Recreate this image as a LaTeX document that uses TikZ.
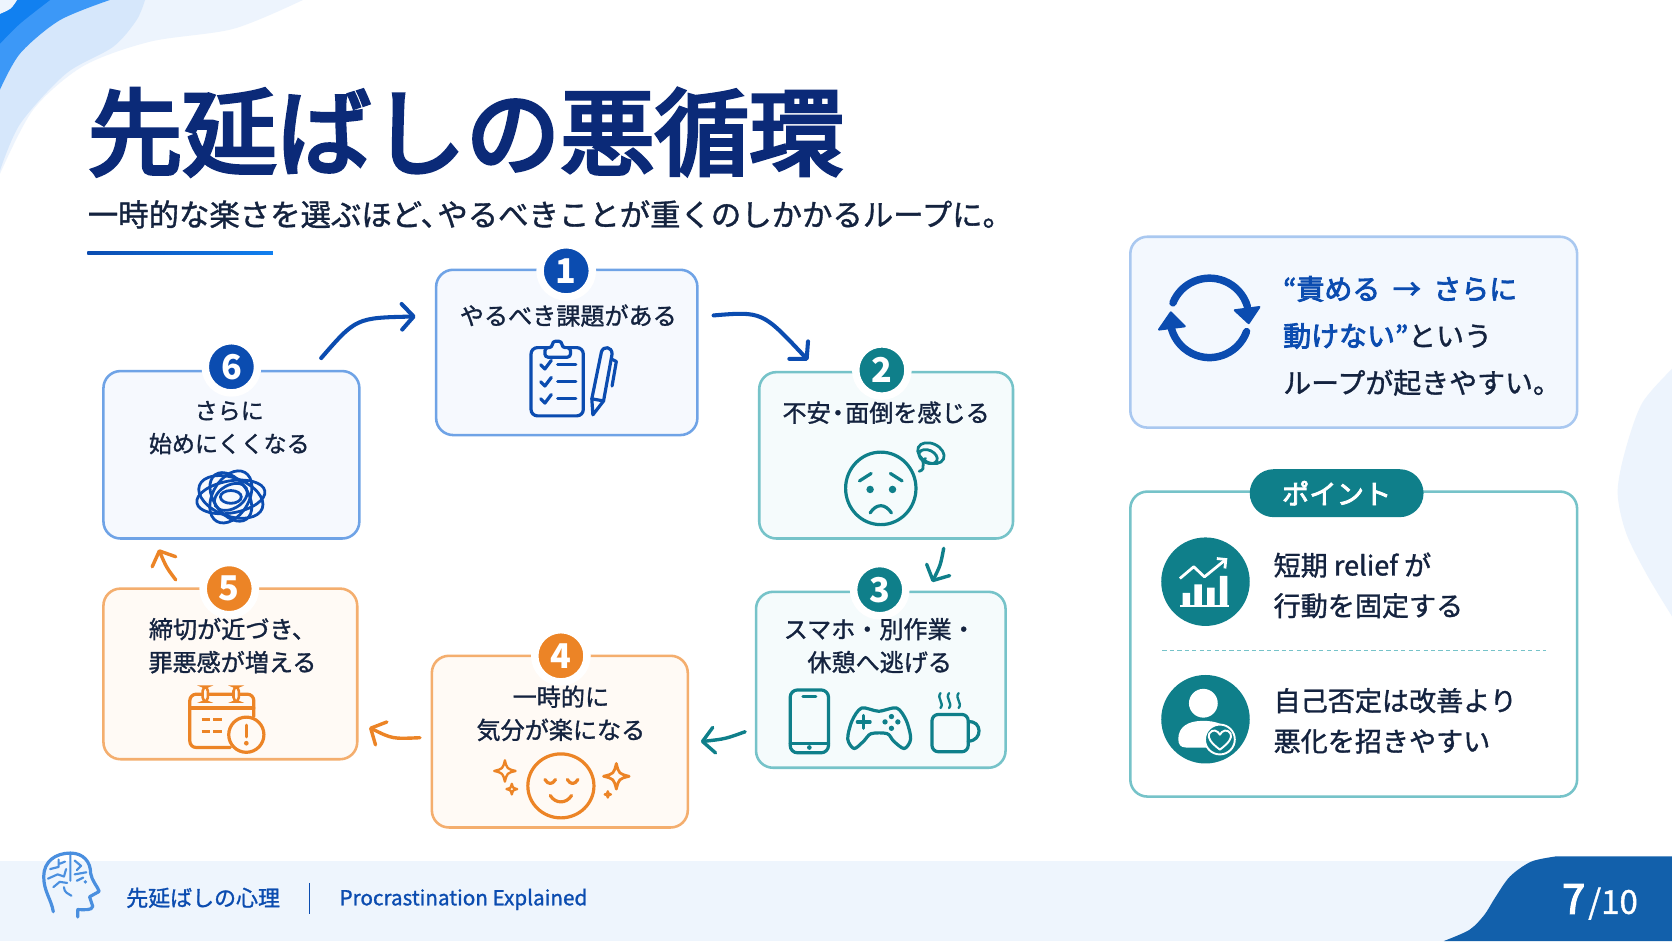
\documentclass[tikz,border=0pt]{standalone}
\usepackage{fontspec}
\setmainfont{Noto Sans CJK JP}[FakeBold=1.2,BoldFeatures={FakeBold=0}]
\newfontfamily\midfont{Noto Sans CJK JP}[FakeBold=3]
\newfontfamily\headfont{Noto Sans CJK JP}[FakeBold=4]
\usetikzlibrary{arrows.meta,calc}

\definecolor{navy}{HTML}{0B2A78}
\definecolor{ink}{HTML}{14233F}
\definecolor{mainblue}{HTML}{0B4CB0}
\definecolor{edgeblue}{HTML}{6FA3E6}
\definecolor{fillblue}{HTML}{F6F9FE}
\definecolor{mainteal}{HTML}{0F7F8A}
\definecolor{edgeteal}{HTML}{76C3C9}
\definecolor{fillteal}{HTML}{F5FBFC}
\definecolor{mainorange}{HTML}{EC8426}
\definecolor{edgeorange}{HTML}{F4AE6E}
\definecolor{fillorange}{HTML}{FFFAF5}
\definecolor{footband}{HTML}{EEF5FD}
\definecolor{footblue}{HTML}{1260AB}
\definecolor{paleblob}{HTML}{EDF4FD}
\definecolor{midblob}{HTML}{D6E7FB}
\definecolor{brightblob}{HTML}{3C98F7}
\definecolor{deepblob}{HTML}{1180F0}
\definecolor{brainblue}{HTML}{4A8FDF}

\tikzset{
  stepbox/.style={rectangle, rounded corners=8pt, line width=1.2pt, inner sep=0pt},
  bluebox/.style={stepbox, draw=edgeblue, fill=fillblue},
  tealbox/.style={stepbox, draw=edgeteal, fill=fillteal},
  orangebox/.style={stepbox, draw=edgeorange, fill=fillorange},
  badge/.style={circle, minimum size=24.5pt, inner sep=0pt, draw=white, line width=3.5pt,
                text=white, font=\fontsize{16}{16}\selectfont\bfseries},
  steptext/.style={inner sep=0pt, align=center, text=ink, font=\fontsize{11.3}{15.5}\selectfont},
  sidetext/.style={inner sep=0pt, align=left, anchor=west, text=ink, font=\fontsize{13.1}{22}\selectfont},
  pointtext/.style={inner sep=0pt, align=left, anchor=west, text=ink, font=\fontsize{12.7}{19}\selectfont},
  flow/.style={-{Straight Barb[round,length=5.5pt,width=12pt]}, line width=1.9pt, line cap=round},
  icon/.style={line width=1.5pt, line cap=round, line join=round},
}

\begin{document}
\begin{tikzpicture}[x=0.5pt,y=-0.5pt]
    \useasboundingbox (0,0) rectangle (1568,882.5);
    \clip (0,0) rectangle (1568,882.5);
    \fill[white] (0,0) rectangle (1568,882.5);

    % Background Shapes
    \fill[paleblob] (0,0) -- plot[smooth] coordinates {(284,0) (219,27) (141,39) (78,62) (31,103) (0,163)} -- cycle;
    \fill[midblob] (0,0) -- plot[smooth] coordinates {(136,0) (128,19) (106,44) (62,69) (19,116) (0,160)} -- cycle;
    \fill[brightblob] (0,0) -- plot[smooth] coordinates {(103,0) (56,19) (19,50) (0,84)} -- cycle;
    \fill[deepblob] (0,0) -- plot[smooth] coordinates {(47,0) (19,22) (0,41)} -- cycle;
    \fill[paleblob] (0,0) -- plot[smooth] coordinates {(16,0) (10,8) (0,13)} -- cycle;
    \fill[paleblob] (1568,882) -- plot[smooth] coordinates {(1568,346) (1540,378) (1524,423) (1517,462) (1525,500) (1545,540) (1568,578)} -- cycle;

    % Footer
    \fill[footband] (0,807) rectangle (1568,882.5);
    \fill[footblue] (1568,803) -- (1460,803) -- plot[smooth] coordinates {(1460,803) (1436,808) (1416,822) (1402,842) (1392,858) (1378,872) (1354,882.5)} -- (1568,882.5) -- cycle;
    \node[inner sep=0pt, anchor=west, text=mainblue, font=\fontsize{10.3}{12}\selectfont] (foottitle) at (118,842) {先延ばしの心理};
    \draw[mainblue, line width=0.6pt] (290,828) -- (290,857);
    \node[inner sep=0pt, anchor=base west, text=mainblue, font=\fontsize{9.7}{12}\selectfont] (footsub) at (318,849) {Procrastination Explained};
    \node[inner sep=0pt, anchor=base east, text=white, font=\fontsize{19.5}{20}\selectfont\midfont] (pagenum) at (1487,857) {7};
    \node[inner sep=0pt, anchor=base west, text=white, font=\fontsize{15.5}{20}\selectfont] (pagetotal) at (1489,857) {/10};

    % Brain Icon
    \draw[brainblue, icon] (50,855) .. controls (48,843) and (41,836) .. (41,822)
        .. controls (41,808) and (52,800) .. (66,800)
        .. controls (78,800) and (85,808) .. (85,819)
        .. controls (86,826) and (92,832) .. (93,836) -- (84,841) -- (87,850)
        .. controls (86,854) and (80,853) .. (73,853) -- (73,860);
    \draw[brainblue, line width=1pt, line cap=round, line join=round] (66,801) -- (66,826)
        (47,815) -- (55,813) -- (55,806) (61,808) -- (56,810)
        (45,824) -- (54,820) -- (60,822) -- (62,815)
        (50,832) -- (56,827) -- (63,828)
        (70,807) -- (76,812) -- (72,816) (70,820) -- (81,818) (72,826) -- (78,823)
        (60,832) .. controls (60,837) and (64,838) .. (67,840);
    \fill[brainblue] (80,827) circle (1.8);

    % Title
    \node[inner sep=0pt, anchor=west, text=navy, font=\fontsize{44.3}{48}\selectfont\headfont] (title) at (82,124) {先延ばしの悪循環};
    \node[inner sep=0pt, anchor=west, text=ink, font=\fontsize{14.25}{16}\selectfont] (subtitle) at (82,201) {一時的な楽さを選ぶほど、\kern-.45emやるべきことが重くのしかかるループに。};
    \shade[left color=mainblue, right color=deepblob] (82,235.5) rectangle (256,238.5);

    % Step Boxes
    \node[bluebox, minimum width=122.5pt, minimum height=77.5pt] (box1) at (531.5,330.5) {};
    \node[tealbox, minimum width=119pt, minimum height=78pt] (box2) at (831,427) {};
    \node[tealbox, minimum width=117pt, minimum height=82.5pt] (box3) at (826,637.5) {};
    \node[orangebox, minimum width=120pt, minimum height=80.5pt] (box4) at (525,695.5) {};
    \node[orangebox, minimum width=119pt, minimum height=80pt] (box5) at (216,632) {};
    \node[bluebox, minimum width=120pt, minimum height=78.5pt] (box6) at (217,426.5) {};

    % Badges
    \node[badge, fill=mainblue] (num1) at (531,254) {1};
    \node[badge, fill=mainteal] (num2) at (827,347) {2};
    \node[badge, fill=mainteal] (num3) at (825,553) {3};
    \node[badge, fill=mainorange] (num4) at (526,615) {4};
    \node[badge, fill=mainorange] (num5) at (215,552) {5};
    \node[badge, fill=mainblue] (num6) at (217,344) {6};

    % Step Labels
    \node[steptext] (text1) at (533,296) {やるべき課題がある};
    \node[steptext] (text2) at (831,387) {不安\kern-.2em・\kern-.2em面倒を感じる};
    \node[steptext] (text3) at (825,605.5) {スマホ・別作業・\\休憩へ逃げる};
    \node[steptext] (text4) at (526,669) {一時的に\\気分が楽になる};
    \node[steptext] (text5) at (218,605.5) {締切が近づき、\\罪悪感が増える};
    \node[steptext, font=\fontsize{10.8}{15.5}\selectfont] (text6) at (215,401) {さらに\\始めにくくなる};

    % Cycle Arrows
    \draw[flow, mainblue] ($(box6.north east)+(-37,-11)$) .. controls (334,298) .. ($(box1.north west)+(-18,45)$);
    \draw[flow, mainblue] ($(box1.north east)+(14,44)$) .. controls (715,292) .. ($(box2.north west)+(47,-10)$);
    \draw[flow, mainteal, line width=1.6pt] ($(box2.south)+(54,8)$) .. controls (882,530) .. ($(box3.north east)+(-70,-8)$);
    \draw[flow, mainteal, line width=1.6pt] ($(box3.south west)+(-9,-35)$) .. controls (680,693) .. ($(box4.east)+(11,0)$);
    \draw[flow, mainorange, line width=1.6pt] ($(box4.north west)+(-10,78)$) .. controls (368,693) .. ($(box5.south east)+(10,-31)$);
    \draw[flow, mainorange, line width=1.6pt] ($(box5.north west)+(69,-7)$) .. controls (156,532) .. ($(box6.south west)+(53,9)$);

    % Clipboard Icon
    \draw[mainblue, icon, rounded corners=3pt] (498,326) rectangle (547,390);
    \draw[mainblue, icon, fill=fillblue, rounded corners=1.5pt] (511,335) -- (511,326) -- (518,326) -- (518,320) -- (527,320) -- (527,326) -- (535,326) -- (535,335) -- cycle;
    \foreach \yy in {342,358,374} {
        \draw[mainblue, icon] (507,\yy) -- (511,\yy+4) -- (517,\yy-4);
        \draw[mainblue, icon] (523,\yy) -- (540,\yy);
    }
    \draw[mainblue, icon] (556,389) -- (555,374) -- (564,330) .. controls (566,324) and (574,325) .. (574,332) -- (566,376) -- cycle;
    \draw[mainblue, icon] (555,374) -- (566,376) (574,337) -- (578,339) -- (574,362);

    % Worried Face
    \draw[mainteal, icon] (826,458) ellipse (33 and 34);
    \fill[mainteal] (816,459) circle (3.5) (837,459) circle (3.5);
    \draw[mainteal, icon] (806,451) -- (817,444) (835,444) -- (846,451);
    \draw[mainteal, icon] (816,481) .. controls (822,472) and (830,472) .. (836,481);
    \draw[mainteal, line width=1.3pt, line cap=round] (862,442) .. controls (870,440) and (862,432) .. (868,430);
    \draw[mainteal, line width=1.3pt, rotate around={-25:(873,425)}] (873,425) ellipse (13 and 9) (872,429) ellipse (9 and 6);

    % Phone, Gamepad, Mug
    \draw[mainteal, icon, rounded corners=3.5pt] (741,647) rectangle (777,706);
    \draw[mainteal, icon] (753,653) -- (765,653) (741,697) -- (777,697);
    \fill[mainteal] (759,701) circle (2.2);
    \draw[mainteal, icon] plot[smooth cycle] coordinates {(808,664) (824,667) (841,664) (850,676) (854,693) (848,702) (838,695) (832,688) (817,688) (810,695) (801,702) (795,693) (799,676)};
    \draw[mainteal, icon] (804,677) -- (816,677) (810,671) -- (810,683);
    \fill[mainteal] (836,672) circle (2.5) (842,677) circle (2.5) (830,677) circle (2.5) (836,683) circle (2.5);
    \draw[mainteal, icon, rounded corners=3pt] (874,670) -- (908,670) -- (908,705) -- (874,705) -- cycle;
    \draw[mainteal, icon] (908,677) .. controls (921,675) and (922,695) .. (908,695);
    \foreach \xx in {882,890,899} {
        \draw[mainteal, line width=1.1pt, line cap=round] (\xx,650) .. controls (\xx-4,655) and (\xx+4,659) .. (\xx,664);
    }

    % Smile and Sparkles
    \draw[mainorange, icon] (526,737) ellipse (31 and 30);
    \draw[mainorange, icon] (511,731) .. controls (514,736) and (518,736) .. (521,731)
        (532,731) .. controls (535,736) and (539,736) .. (542,731)
        (516,746) .. controls (521,754) and (531,754) .. (536,746);
    \foreach \xx/\yy/\rr/\ww in {473.5/723/10/1.1, 480/740/5/1.1, 578/728/12/1.3, 570/745/3/1} {
        \draw[mainorange, line width=\ww pt, line join=round] (\xx,\yy-\rr) .. controls (\xx+0.2*\rr,\yy-0.2*\rr) .. (\xx+\rr,\yy)
            .. controls (\xx+0.2*\rr,\yy+0.2*\rr) .. (\xx,\yy+\rr)
            .. controls (\xx-0.2*\rr,\yy+0.2*\rr) .. (\xx-\rr,\yy)
            .. controls (\xx-0.2*\rr,\yy-0.2*\rr) .. cycle;
    }

    % Calendar Alert
    \draw[mainorange, icon, rounded corners=3pt] (216,701) -- (178,701) -- (178,651) -- (238,651) -- (238,672);
    \draw[mainorange, icon] (178,664) -- (238,664);
    \draw[mainorange, line width=1.2pt, fill=fillorange, rounded corners=2pt] (190,644) rectangle (195,658) (219,644) rectangle (224,658);
    \draw[mainorange, line width=1.5pt] (189,675) -- (197,675) (200,675) -- (208,675) (189,686) -- (197,686) (200,686) -- (208,686);
    \draw[mainorange, icon, fill=fillorange] (231,689) circle (16.5);
    \draw[mainorange, line width=1.5pt, line cap=round] (231,680) -- (231,691);
    \fill[mainorange] (231,697) circle (2.2);

    % Tangle Icon
    \foreach \aa/\rx/\ry in {10/33/15, 60/27/17, 125/26/16, 160/32/18, 30/17/11, 0/10/6} {
        \draw[mainblue, line width=1.3pt, rotate around={\aa:(216.5,466)}] (216.5,466) ellipse (\rx*0.98 and \ry);
    }

    % Loop Panel
    \node[stepbox, draw=edgeblue!60, fill=fillblue!70!paleblob, rounded corners=8pt, minimum width=209.5pt, minimum height=89.5pt] (loopbox) at (1269.5,311.5) {};
    \draw[mainblue, line width=3.5pt, line cap=round] (1100,284) arc[start angle=202, end angle=344, radius=37];
    \draw[mainblue, line width=3.5pt, line cap=round] (1169,311) arc[start angle=20, end angle=164, radius=37];
    \fill[mainblue, line join=round, draw=mainblue, line width=1pt] (1158,291) -- (1181,288) -- (1171,303) -- cycle;
    \fill[mainblue, line join=round, draw=mainblue, line width=1pt] (1087,309) -- (1111,306) -- (1098,293) -- cycle;
    \node[sidetext] (looptext) at (1203,315) {\textcolor{mainblue}{\midfont “責める\kern.45em→\kern.45em さらに}\\\textcolor{mainblue}{\midfont 動けない”}という\\ループが起きやすい。};

    % Point Panel
    \node[stepbox, draw=edgeteal, fill=white, rounded corners=8pt, minimum width=209.5pt, minimum height=143pt] (pointbox) at (1269.5,604) {};
    \node[rectangle, rounded corners=11.25pt, fill=mainteal, text=white, inner sep=0pt, minimum width=81.5pt, minimum height=22.5pt, font=\fontsize{12.8}{14}\selectfont\midfont] (pointtag) at (1253.5,462.5) {ポイント};
    \node[circle, fill=mainteal, minimum size=41.5pt, inner sep=0pt] (chartdisc) at (1130.5,545.5) {};
    \node[circle, fill=mainteal, minimum size=41.5pt, inner sep=0pt] (persondisc) at (1130.5,674.5) {};
    \node[pointtext] (point1) at (1194,549) {短期 relief が\\行動を固定する};
    \node[pointtext] (point2) at (1194,676) {自己否定は改善より\\悪化を招きやすい};
    \draw[edgeteal, line width=0.7pt, dash pattern=on 2pt off 1.5pt] (1090,610) -- (1450,610);

    % Chart Icon
    \fill[white] (1109,556) rectangle (1116,568) (1120,548) rectangle (1127,568) (1132,551) rectangle (1139,568) (1144,540) rectangle (1151,568);
    \draw[white, line width=1pt] (1107,568.5) -- (1153,568.5);
    \draw[white, line width=1.3pt, line join=round, -{Straight Barb[length=3pt,width=6pt]}] (1106.5,542.5) -- (1119.5,531.5) -- (1129.5,541) -- (1151,523.5);

    % Person Icon
    \fill[white] (1128.5,659.5) circle (13.5);
    \fill[white] (1105,693) .. controls (1105,681) and (1115,676) .. (1128,676) .. controls (1140,676) and (1150,679) .. (1152,688) -- (1140,701) -- (1112,701) .. controls (1107,701) and (1105,698) .. cycle;
    \draw[white, fill=mainteal, line width=0.9pt] (1144,693.5) circle (14);
    \draw[white, line width=0.9pt, line join=round] (1144,703) .. controls (1136,697) and (1132,692) .. (1134,688) .. controls (1137,683) and (1142,685) .. (1144,689) .. controls (1146,685) and (1151,683) .. (1154,688) .. controls (1156,692) and (1152,697) .. cycle;
\end{tikzpicture}
\end{document}
